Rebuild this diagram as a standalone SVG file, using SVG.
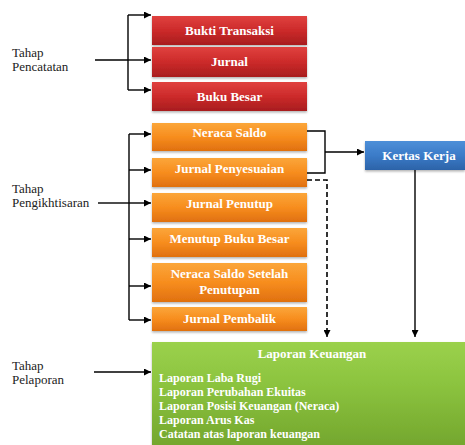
<svg xmlns="http://www.w3.org/2000/svg" width="465" height="445" viewBox="0 0 465 445">
  <defs>
    <linearGradient id="gRed" x1="0" y1="0" x2="0" y2="1">
      <stop offset="0" stop-color="#e0413f"/>
      <stop offset="0.5" stop-color="#cc2a2a"/>
      <stop offset="1" stop-color="#a81d1e"/>
    </linearGradient>
    <linearGradient id="gOrange" x1="0" y1="0" x2="0" y2="1">
      <stop offset="0" stop-color="#fba63a"/>
      <stop offset="0.5" stop-color="#f78d1e"/>
      <stop offset="1" stop-color="#e0700f"/>
    </linearGradient>
    <linearGradient id="gBlue" x1="0" y1="0" x2="0" y2="1">
      <stop offset="0" stop-color="#4d8fd8"/>
      <stop offset="0.5" stop-color="#3b7bc8"/>
      <stop offset="1" stop-color="#2c63a8"/>
    </linearGradient>
    <linearGradient id="gGreen" x1="0" y1="0" x2="0" y2="1">
      <stop offset="0" stop-color="#9bd14c"/>
      <stop offset="0.4" stop-color="#8cc43f"/>
      <stop offset="1" stop-color="#74a72e"/>
    </linearGradient>
    <filter id="shadow" x="-5%" y="-10%" width="110%" height="130%">
      <feDropShadow dx="0" dy="1.5" stdDeviation="1" flood-color="#000" flood-opacity="0.3"/>
    </filter>
    <marker id="arrow" viewBox="0 0 10 10" refX="10" refY="5" markerWidth="7" markerHeight="7" markerUnits="userSpaceOnUse" orient="auto">
      <path d="M0,0 L10,5 L0,10 z" fill="#000"/>
    </marker>
  </defs>
  <style>
    text { font-family: "Liberation Serif", "Times New Roman", serif; }
    .lbl { font-size: 13px; fill: #222; }
    .box { font-size: 13px; font-weight: bold; fill: #fff; text-anchor: middle; }
    .item { font-size: 12px; font-weight: bold; fill: #fff; }
    .red { fill: url(#gRed); filter: url(#shadow); }
    .orange { fill: url(#gOrange); filter: url(#shadow); }
    .blue { fill: url(#gBlue); filter: url(#shadow); }
    .green { fill: url(#gGreen); filter: url(#shadow); }
    .line { fill: none; stroke: #000; stroke-width: 1.4; }
    .dash { fill: none; stroke: #000; stroke-width: 1.6; stroke-dasharray: 5 3; }
  </style>
  <rect width="465" height="445" fill="#fff"/>

  <!-- stage labels -->
  <g id="tahap-pencatatan">
    <text class="lbl" x="12" y="57">Tahap</text>
    <text class="lbl" x="12" y="71">Pencatatan</text>
  </g>
  <g id="tahap-pengikhtisaran">
    <text class="lbl" x="12" y="193">Tahap</text>
    <text class="lbl" x="12" y="207">Pengikhtisaran</text>
  </g>
  <g id="tahap-pelaporan">
    <text class="lbl" x="12" y="370">Tahap</text>
    <text class="lbl" x="12" y="384">Pelaporan</text>
  </g>

  <!-- recording stage -->
  <g id="bukti-transaksi">
    <rect class="red" x="152" y="16" width="155" height="29"/>
    <text class="box" x="229.5" y="35">Bukti Transaksi</text>
  </g>
  <g id="jurnal">
    <rect class="red" x="152" y="47" width="155" height="30"/>
    <text class="box" x="229.5" y="66">Jurnal</text>
  </g>
  <g id="buku-besar">
    <rect class="red" x="152" y="82" width="155" height="29"/>
    <text class="box" x="229.5" y="101">Buku Besar</text>
  </g>

  <!-- summarising stage -->
  <g id="neraca-saldo">
    <rect class="orange" x="152" y="123" width="155" height="28"/>
    <text class="box" x="229.5" y="137">Neraca Saldo</text>
  </g>
  <g id="jurnal-penyesuaian">
    <rect class="orange" x="152" y="158" width="155" height="29"/>
    <text class="box" x="229.5" y="173">Jurnal Penyesuaian</text>
  </g>
  <g id="jurnal-penutup">
    <rect class="orange" x="152" y="193" width="155" height="29"/>
    <text class="box" x="229.5" y="208">Jurnal Penutup</text>
  </g>
  <g id="menutup-buku-besar">
    <rect class="orange" x="152" y="228" width="155" height="29"/>
    <text class="box" x="229.5" y="243">Menutup Buku Besar</text>
  </g>
  <g id="neraca-saldo-setelah-penutupan">
    <rect class="orange" x="152" y="263" width="155" height="39"/>
    <text class="box" x="229.5" y="278">Neraca Saldo Setelah</text>
    <text class="box" x="229.5" y="294">Penutupan</text>
  </g>
  <g id="jurnal-pembalik">
    <rect class="orange" x="152" y="307" width="155" height="24"/>
    <text class="box" x="229.5" y="323">Jurnal Pembalik</text>
  </g>

  <g id="kertas-kerja">
    <rect class="blue" x="365" y="141" width="100" height="29"/>
    <text class="box" x="419" y="160">Kertas Kerja</text>
  </g>

  <!-- reporting stage -->
  <g id="laporan-keuangan">
    <rect class="green" x="152" y="342" width="313" height="103"/>
    <text class="box" x="312" y="358" font-size="13.5">Laporan Keuangan</text>
    <text class="item" x="159" y="382">Laporan Laba Rugi</text>
    <text class="item" x="159" y="396">Laporan Perubahan Ekuitas</text>
    <text class="item" x="159" y="410">Laporan Posisi Keuangan (Neraca)</text>
    <text class="item" x="159" y="424">Laporan Arus Kas</text>
    <text class="item" x="159" y="438">Catatan atas laporan keuangan</text>
  </g>

  <!-- connectors -->
  <g id="connectors">
    <!-- recording bracket -->
    <path class="line" d="M95,60 H128"/>
    <path class="line" d="M128,15 V90"/>
    <path class="line" d="M128,15 H151" marker-end="url(#arrow)"/>
    <path class="line" d="M128,60 H151" marker-end="url(#arrow)"/>
    <path class="line" d="M128,90 H151" marker-end="url(#arrow)"/>

    <!-- summarising bracket -->
    <path class="line" d="M98,203 H129"/>
    <path class="line" d="M129,134 V320"/>
    <path class="line" d="M129,134 H151" marker-end="url(#arrow)"/>
    <path class="line" d="M129,170 H151" marker-end="url(#arrow)"/>
    <path class="line" d="M129,203 H151" marker-end="url(#arrow)"/>
    <path class="line" d="M129,239 H151" marker-end="url(#arrow)"/>
    <path class="line" d="M129,286 H151" marker-end="url(#arrow)"/>
    <path class="line" d="M129,320 H151" marker-end="url(#arrow)"/>

    <!-- into the worksheet -->
    <path class="line" d="M307,131 H325 V173 H307"/>
    <path class="line" d="M325,152 H364" marker-end="url(#arrow)"/>

    <!-- worksheet down to reports -->
    <path class="line" d="M415,170 V337" marker-end="url(#arrow)"/>

    <!-- dashed path from adjustments to reports -->
    <path class="dash" d="M307,180 H327 V330"/>
    <path class="line" d="M327,330 V337" marker-end="url(#arrow)"/>

    <!-- reporting input -->
    <path class="line" d="M94,372 H151" marker-end="url(#arrow)"/>
  </g>
</svg>
